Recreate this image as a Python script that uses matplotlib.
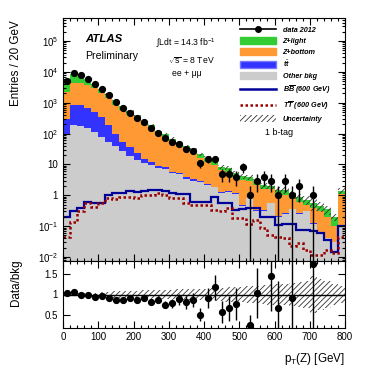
import numpy as np
import matplotlib
matplotlib.use('Agg')
import matplotlib.pyplot as plt
from matplotlib.patches import Patch
from matplotlib.lines import Line2D
from matplotlib.ticker import MultipleLocator, FixedLocator, FuncFormatter, NullFormatter

plt.rcParams['font.family'] = ['Liberation Sans', 'DejaVu Sans']
plt.rcParams['mathtext.fontset'] = 'custom'
plt.rcParams['mathtext.rm'] = 'Liberation Sans'
plt.rcParams['mathtext.it'] = 'Liberation Sans:italic:bold'
plt.rcParams['mathtext.bf'] = 'Liberation Sans:bold'
plt.rcParams['hatch.linewidth'] = 0.6

# ---------------- data (40 bins of 20 GeV, 0-800 GeV) ----------------
bin_edges = np.arange(0, 820, 20)

data_counts = [5100, 8900, 7700, 5900, 4000, 2700, 1740, 1050, 690, 475,
               327, 233, 152, 107, 72, 53, 46, 31, 27, 11,
               15, 15, 5, 5, 4, 8, 1, 3, 4, 3,
               1, 3, 1, 2, 0, 1, 0, 0, 0, 0]

z_light = [2650, 4180, 3560, 2320, 1260, 780, 540, 360, 220, 125,
           97, 67, 50, 33, 25, 17.5, 13.7, 9.8, 8.2, 5.2,
           4.3, 3.2, 2.1, 1.9, 1.3, 1.0, 0.95, 0.7, 0.5, 0.52,
           0.4, 0.4, 0.29, 0.25, 0.2, 0.175, 0.15, 0.15, 0.1, 0.3]

z_bottom = [2000, 3450, 3480, 3040, 2440, 1645, 1190, 750, 525, 364,
            252, 174.5, 122, 81, 62, 44.1, 32.7, 24.65, 19.75, 13.2,
            9.65, 7.68, 5.1, 4.22, 2.74, 2.7, 2.06, 1.87, 1.27, 0.98,
            0.88, 0.78, 0.44, 0.34, 0.19, 0.27, 0.24, 0.16, 0.07, 0.99]

ttbar = [200, 660, 640, 510, 395, 275, 135, 60, 27, 17,
         9, 4.5, 2.5, 1.5, 1.0, 0.7, 0.5, 0.35, 0.25, 0.2,
         0.15, 0.12, 0.1, 0.08, 0.06, 0.05, 0.04, 0.03, 0.03, 0.02,
         0.02, 0.02, 0.01, 0.01, 0.01, 0.01, 0.0, 0.0, 0.0, 0.01]

other_bkg = [100, 190, 180, 150, 115, 80, 55, 40, 28, 19,
             14, 11, 9.5, 7.5, 7.0, 5.2, 4.8, 3.5, 3.0, 2.6,
             2.2, 1.8, 1.2, 1.3, 1.1, 0.45, 0.8, 0.3, 0.3, 0.55,
             0.2, 0.25, 0.35, 0.25, 0.3, 0.12, 0.06, 0.04, 0.03, 0.1]

bb_600 = [0.20, 0.30, 0.40, 0.59, 0.55, 0.55, 1.02, 1.16, 1.2, 1.38,
          1.3, 1.4, 1.45, 1.5, 1.33, 1.16, 1.1, 1.1, 0.62, 0.62,
          0.62, 0.90, 0.55, 0.55, 0.33, 0.36, 0.38, 0.38, 0.20, 0.20,
          0.11, 0.12, 0.12, 0.076, 0.076, 0.07, 0.06, 0.035, 0.014, 0.1]

tt_600 = [0.046, 0.14, 0.30, 0.55, 0.43, 0.55, 0.79, 0.74, 0.9, 0.85,
          0.79, 1.0, 1.0, 1.16, 1.0, 0.79, 0.79, 0.55, 0.5, 0.5,
          0.5, 0.33, 0.30, 0.40, 0.18, 0.18, 0.12, 0.16, 0.087, 0.05,
          0.046, 0.04, 0.022, 0.028, 0.017, 0.012, 0.012, 0.017, 0.013, 0.046]

bkg_unc = [0.02, 0.02, 0.025, 0.03, 0.04, 0.06, 0.07, 0.08, 0.08, 0.09,
           0.09, 0.10, 0.10, 0.10, 0.11, 0.11, 0.12, 0.12, 0.13, 0.14,
           0.14, 0.15, 0.16, 0.17, 0.18, 0.18, 0.20, 0.20, 0.22, 0.24,
           0.24, 0.26, 0.28, 0.30, 0.32, 0.45, 0.38, 0.32, 0.25, 0.20]

main_yticks = [1e-2, 1e-1, 1, 10, 1e2, 1e3, 1e4, 1e5]
ratio_yticks = [0.5, 1.0, 1.5]

legend_labels = ['data 2012', 'Z+light', 'Z+bottom', r'$t\bar{t}$', 'Other bkg',
                 r'$B\overline{B}$ (600 GeV)', r'$T\overline{T}$ (600 GeV)', 'Uncertainty']

# ---------------- styles ----------------
c_green = '#33cc33'
c_orange = '#ff9933'
c_blue = '#3333ff'
c_gray = '#cccccc'
c_bb = '#000099'
c_tt = '#990000'
c_hatch = '#333333'

W, H = 371, 374
fig = plt.figure(figsize=(W / 100, H / 100), dpi=100)


def fx(x):
    return x / W


def fy(y):
    return 1 - y / H


ax = fig.add_axes([fx(63), fy(261), fx(345) - fx(63), fy(18) - fy(261)])
ax2 = fig.add_axes([fx(63), fy(328), fx(345) - fx(63), fy(261) - fy(328)])

edges = bin_edges
centers = 0.5 * (edges[:-1] + edges[1:])
n_data = np.array(data_counts, float)
lvl1 = np.array(other_bkg, float)
lvl2 = lvl1 + np.array(ttbar, float)
lvl3 = lvl2 + np.array(z_bottom, float)
total = lvl3 + np.array(z_light, float)
unc = np.array(bkg_unc, float)

floor = 1e-6
ax.stairs(total, edges, baseline=lvl3, fill=True, color=c_green, lw=0)
ax.stairs(lvl3, edges, baseline=lvl2, fill=True, color=c_orange, lw=0)
ax.stairs(lvl2, edges, baseline=lvl1, fill=True, color=c_blue, lw=0)
ax.stairs(lvl1, edges, baseline=floor, fill=True, color=c_gray, lw=0)
ax.stairs(total * (1 + unc), edges, baseline=total * (1 - unc), fill=True,
          facecolor='none', edgecolor=c_hatch, hatch='//////', lw=0)

ax.stairs(np.array(bb_600), edges, baseline=None, color=c_bb, lw=1.6)
ax.stairs(np.array(tt_600), edges, baseline=None, color=c_tt, lw=1.8,
          ls=(0, (1, 1)))

m = n_data > 0
err = np.sqrt(n_data[m])
low = np.minimum(err, n_data[m] - 1e-4)
ax.errorbar(centers[m], n_data[m], yerr=[low, err], fmt='o', color='k',
            ms=4.2, lw=1.0, capsize=0, zorder=5)

ax.set_yscale('log')
ax.set_xlim(0, 800)
ax.set_ylim(7.4e-3, 5.6e5)


def logfmt(v, pos):
    n = int(round(np.log10(v)))
    if n == 0:
        return '1'
    if n == 1:
        return '10'
    return r'$10^{%d}$' % n


minor_log = [k * d for d in [1e-3, 1e-2, 1e-1, 1, 10, 1e2, 1e3, 1e4, 1e5]
             for k in range(2, 10)]
minor_log = [v for v in minor_log if 7.4e-3 <= v <= 5.6e5]
ax.yaxis.set_major_locator(FixedLocator(main_yticks))
ax.yaxis.set_major_formatter(FuncFormatter(logfmt))
ax.yaxis.set_minor_locator(FixedLocator(minor_log))
ax.yaxis.set_minor_formatter(NullFormatter())
ax.xaxis.set_major_locator(MultipleLocator(100))
ax.xaxis.set_minor_locator(MultipleLocator(20))
ax.tick_params(axis='x', labelbottom=False)

for a in (ax, ax2):
    a.tick_params(which='both', direction='in', top=True, right=True,
                  labelsize=7, width=0.8)
    a.tick_params(which='major', length=5)
    a.tick_params(which='minor', length=2.5)
    for s in a.spines.values():
        s.set_linewidth(0.8)

# ratio panel
ax2.stairs(1 + unc, edges, baseline=1 - unc, fill=True, facecolor='none',
           edgecolor=c_hatch, hatch='//////', lw=0)
ax2.axhline(1, color='k', lw=1.0)
ratio = np.where(total > 0, n_data / total, 0)
rerr = np.sqrt(n_data) / total
rm = (n_data > 0) & (ratio >= 0.2) & (ratio <= 1.8)
ax2.errorbar(centers[rm], ratio[rm], yerr=rerr[rm], fmt='o', color='k',
             ms=4.2, lw=1.0, capsize=0, zorder=5)
ax2.set_xlim(0, 800)
ax2.set_ylim(0.2, 1.8)
ax2.yaxis.set_major_locator(FixedLocator(ratio_yticks))
ax2.yaxis.set_major_formatter(FuncFormatter(lambda v, p: '%g' % v))
ax2.xaxis.set_major_locator(MultipleLocator(100))
ax2.xaxis.set_minor_locator(MultipleLocator(20))
ax2.tick_params(axis='x', pad=3)

# legend
handles = [
    Line2D([0], [0], color='k', marker='o', ms=4, lw=1.2),
    Patch(facecolor=c_green, edgecolor=c_green),
    Patch(facecolor=c_orange, edgecolor=c_orange),
    Patch(facecolor=c_blue, edgecolor='#7777ff'),
    Patch(facecolor=c_gray, edgecolor=c_gray),
    Line2D([0], [0], color=c_bb, lw=1.8),
    Line2D([0], [0], color=c_tt, lw=1.8, ls=(0, (1, 1))),
    Patch(facecolor='none', edgecolor=c_hatch, hatch='//////', lw=0),
]
fig.legend(handles, legend_labels, loc='upper left',
           bbox_to_anchor=(fx(240), fy(26)), frameon=False,
           prop={'style': 'italic', 'weight': 'bold', 'size': 5.2},
           handlelength=5.0, handleheight=1.1, handletextpad=0.9,
           labelspacing=0.42, borderpad=0, borderaxespad=0)

# texts
fig.text(fx(85), fy(39), 'ATLAS', fontsize=8.2, fontweight='bold',
         fontstyle='italic', va='center', ha='left')
fig.text(fx(85), fy(56), 'Preliminary', fontsize=7.6, va='center', ha='left')
fig.text(fx(156), fy(43), r'$\int$Ldt = 14.3 fb$^{-1}$', fontsize=6.2,
         va='center', ha='left')
fig.text(fx(168), fy(61), r'$\sqrt{\mathrm{s}}$ = 8 TeV', fontsize=6.2,
         va='center', ha='left')
fig.text(fx(172), fy(74), 'ee + μμ', fontsize=6.2, va='center', ha='left')
fig.text(fx(279), fy(132), '1 b-tag', fontsize=6.5, va='center', ha='center')

fig.text(fx(16), fy(20), 'Entries / 20 GeV', fontsize=8.4, rotation=90,
         va='top', ha='center')
fig.text(fx(16), fy(306), 'Data/bkg', fontsize=8.4, rotation=90,
         va='bottom', ha='center')
fig.text(fx(345), fy(359), r'p$_{\mathrm{T}}$(Z) [GeV]', fontsize=8.4,
         va='center', ha='right')

fig.savefig('out.png', dpi=100)
